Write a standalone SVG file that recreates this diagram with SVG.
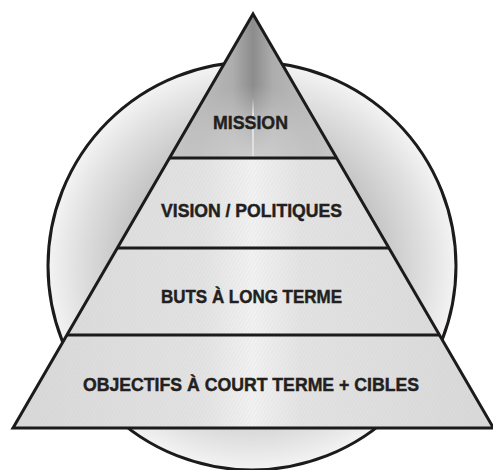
<svg xmlns="http://www.w3.org/2000/svg" width="493" height="470" viewBox="0 0 493 470">
<defs>
<radialGradient id="gCircle" cx="252" cy="266" r="205" gradientUnits="userSpaceOnUse">
<stop offset="0" stop-color="#adadad"/>
<stop offset="0.62" stop-color="#c4c4c4"/>
<stop offset="0.85" stop-color="#e0e0e0"/>
<stop offset="1" stop-color="#f4f4f4"/>
</radialGradient>
<linearGradient id="gTop" x1="169" y1="0" x2="337" y2="0" gradientUnits="userSpaceOnUse">
<stop offset="0" stop-color="#c8c8c8"/>
<stop offset="0.38" stop-color="#adadad"/>
<stop offset="0.5" stop-color="#8c8c8c"/>
<stop offset="0.62" stop-color="#adadad"/>
<stop offset="1" stop-color="#c8c8c8"/>
</linearGradient>
<radialGradient id="gTopLow" cx="253" cy="165" r="80" gradientUnits="userSpaceOnUse">
<stop offset="0" stop-color="#d6d6d6" stop-opacity="0.95"/>
<stop offset="0.6" stop-color="#cccccc" stop-opacity="0.6"/>
<stop offset="1" stop-color="#c4c4c4" stop-opacity="0"/>
</radialGradient>
<linearGradient id="gStreak" x1="0" y1="98" x2="0" y2="158" gradientUnits="userSpaceOnUse">
<stop offset="0" stop-color="#ffffff" stop-opacity="0"/>
<stop offset="0.3" stop-color="#ffffff" stop-opacity="0.9"/>
<stop offset="1" stop-color="#ffffff" stop-opacity="0.5"/>
</linearGradient>
<linearGradient id="gBand" x1="13" y1="0" x2="493" y2="0" gradientUnits="userSpaceOnUse">
<stop offset="0" stop-color="#d8d8d8"/>
<stop offset="0.4" stop-color="#e3e3e3"/>
<stop offset="0.5" stop-color="#f2f2f2"/>
<stop offset="0.6" stop-color="#e3e3e3"/>
<stop offset="1" stop-color="#d8d8d8"/>
</linearGradient>
<pattern id="hatch" width="3" height="3" patternUnits="userSpaceOnUse" patternTransform="rotate(30)">
<line x1="0" y1="0" x2="0" y2="3" stroke="#bdbdbd" stroke-width="0.8" stroke-opacity="0.35"/>
</pattern>
</defs>
<style>
.outline{fill:none;stroke:#1c1a1b;stroke-width:3;stroke-linejoin:miter}
.div{stroke:#1c1a1b;stroke-width:3}
.lbl{font-family:"Liberation Sans",Arial,sans-serif;font-weight:bold;font-size:19px;fill:#231f20;stroke:#231f20;stroke-width:0.45;text-anchor:middle}
.band{fill:url(#gBand)}
.tex{fill:url(#hatch)}
</style>
<rect width="493" height="470" fill="#ffffff"/>
<g id="circle">
<circle cx="252" cy="266" r="204" fill="url(#gCircle)" stroke="#1c1a1b" stroke-width="3"/>
</g>
<g id="band-objectifs">
<polygon class="band" points="66.9,335 439.5,335 493.5,428 13,428"/>
<polygon class="tex" points="66.9,335 439.5,335 493.5,428 13,428"/>
<text class="lbl" x="251" y="391" textLength="336" lengthAdjust="spacingAndGlyphs">OBJECTIFS À COURT TERME + CIBLES</text>
</g>
<g id="band-buts">
<polygon class="band" points="117.4,248 389,248 439.5,335 66.9,335"/>
<polygon class="tex" points="117.4,248 389,248 439.5,335 66.9,335"/>
<text class="lbl" x="251.5" y="303" textLength="181" lengthAdjust="spacingAndGlyphs">BUTS À LONG TERME</text>
</g>
<g id="band-vision">
<polygon class="band" points="169.5,158 336.7,158 389,248 117.4,248"/>
<polygon class="tex" points="169.5,158 336.7,158 389,248 117.4,248"/>
<text class="lbl" x="251.5" y="217" textLength="181" lengthAdjust="spacingAndGlyphs">VISION / POLITIQUES</text>
</g>
<g id="band-mission">
<polygon fill="url(#gTop)" points="253,14 336.7,158 169.5,158"/>
<polygon fill="url(#gTopLow)" points="253,14 336.7,158 169.5,158"/>
<line x1="253" y1="98" x2="253" y2="158" stroke="url(#gStreak)" stroke-width="1.5"/>
<text class="lbl" x="250.5" y="129" textLength="75" lengthAdjust="spacingAndGlyphs">MISSION</text>
</g>
<g id="outlines">
<polygon class="outline" points="253,14 493.5,428 13,428"/>
<line class="div" x1="169.5" y1="158" x2="336.7" y2="158"/>
<line class="div" x1="117.4" y1="248" x2="389" y2="248"/>
<line class="div" x1="66.9" y1="335" x2="439.5" y2="335"/>
</g>
<g id="connectors"/>
</svg>
